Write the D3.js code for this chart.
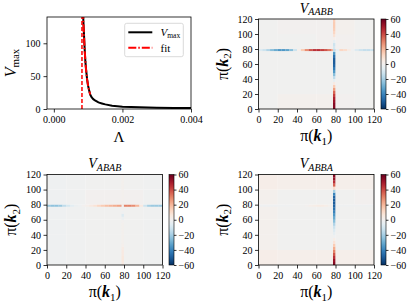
<!DOCTYPE html>
<html>
<head>
<meta charset="utf-8">
<script src="https://cdnjs.cloudflare.com/ajax/libs/d3/7.8.5/d3.min.js"></script>
<style>
body { margin: 0; background: #fff; }
svg text { font-family: "Liberation Serif", "DejaVu Serif", serif; fill: #000; }
</style>
</head>
<body>
<div id="chart"></div>
<script>
// V_max against Lambda
var lambdaVals = [0.000852, 0.00086, 0.00088, 0.0009, 0.00092, 0.00094, 0.00097, 0.001, 0.00103, 0.00106, 0.0011, 0.00115, 0.0012, 0.0013, 0.0014, 0.0015, 0.0017, 0.002, 0.0025, 0.003, 0.0035, 0.004];
var vmaxVals = [150, 135, 112, 90, 72, 60, 45, 35, 28, 22, 18, 15, 13, 10, 8.5, 7, 5, 3.4, 2.5, 2, 1.7, 1.5];
var fitLambda = [0.00084, 0.00085, 0.00086, 0.00088, 0.0009, 0.00092, 0.00094, 0.00097, 0.001, 0.00103, 0.00106];
var fitVals = [170, 150, 132, 110, 89, 72, 59, 45, 35, 28, 22];
var lambdaCrit = 0.00082;

var lambdaTicks = [0, 0.002, 0.004];
var vmaxTicks = [0, 50, 100];
var kTicks = [0, 20, 40, 60, 80, 100, 120];
var cbarTicks = [60, 40, 20, 0, -20, -40, -60];

// heat maps: values along k2 = lineK (k1 = 0, 4, ... 116),
// values along k1 = lineK (k2 = 0, 4, ... 116),
// coarse background in 20x20 blocks (rows from k2 = 0 upward)
var lineK = 78.6;

var aabbRow = [-8, -12, -18, -25, -30, -35, -35, -32, -25, -12, 2, 15, 28, 38, 44, 45, 42, 38, 32, 20, -5, 12, 10, 4, -2, -8, -12, -14, -14, -12];
var aabbCol = [55, 55, 52, 48, 42, 35, 25, 15, 5, -5, -15, -25, -35, -42, -48, -50, -50, -45, -35, -15, -10, -12, -5, 2, 8, 12, 14, 15, 15, 14];
var aabbBg = [[-1, 1, 1, 1, 0, -1], [-1, -1, -1, -1, -1, -1], [-1, -1, -1, -1, -1, -1], [-1, -1, -1, -1, -1, -1], [-1, -1, -1, 0, 0, -1], [-1, 0, 0, 0, 1, -1]];

var ababRow = [-22, -24, -24, -22, -15, -10, -6, -3, -2, 0, 2, 5, 8, 12, 15, 18, 20, 22, 24, 26, 30, 30, 28, 20, 5, -12, -20, -22, -22, -22];
var ababCol = [5, 6, 6, 5, 5, 4, 2, 1, 1, 1, 1, 1, 1, 1, 0, -3, -8, -2, 0, 0, 1, 1, 1, 1, 1, 1, 1, 1, 1, 1];
var ababBg = [[-2, -1.5, -1, -1, -1, -1.5], [-2, -1.5, -1, -1, -1, -1.5], [-2, -1.5, -1, -1, -1, -1.5], [-2, -1.5, -1, -1, -1, -1.5], [-2, -1.5, 0, 0, 0, -1.5], [-2, -1.5, -1, -1, -1, -1.5]];

var abbaRow = [-2, -2, -2, -2, -2, -2, -2, -2, -2, -1, -1, -1, 0, 2, 3, 4, 4, 3, 1, 0, -2, -2, -2, -2, -2, -2, -2, -2, -2, -2];
var abbaCol = [55, 52, 45, 38, 30, 22, 15, 8, 3, -2, -5, -8, -12, -18, -25, -30, -35, -40, -45, -48, -50, -50, -48, -40, -20, 10, 35, 45, 52, 55];
var abbaBg = [[2.5, 2, 2, 2, 2, 2], [1, -1, -1, -1, -1, -1], [1, -1, -1, -1, -1, -1], [1, -1, -1, -1, -1, -1], [1, -1, -1, -1, -1, 0], [2.5, 2, 2, 2, 2, 2]];

var svg = d3.select("#chart")
    .append("svg")
    .attr("width", 416)
    .attr("height", 306);

var colour = d3.scaleSequential(t => d3.interpolateRdBu(1 - t)).domain([-60, 60]);

var defs = svg.append("defs");
var grad = defs.append("linearGradient")
    .attr("id", "cbar")
    .attr("x1", 0).attr("y1", 1)
    .attr("x2", 0).attr("y2", 0);
grad.selectAll("stop")
    .data(d3.range(0, 1.0001, 0.05))
    .enter().append("stop")
    .attr("offset", d => d)
    .attr("stop-color", d => colour(-60 + 120 * d));

var serif = "'Liberation Serif', 'DejaVu Serif', serif";

function styleAxis(g, size) {
    g.attr("font-family", serif);
    g.select(".domain").remove();
    g.selectAll("line").attr("stroke", "#000").attr("stroke-width", 0.8);
    g.selectAll("text")
        .attr("font-family", serif)
        .attr("font-size", size || 10);
}

// ---------- top left: V_max ----------
var lx = d3.scaleLinear().domain([-0.0002, 0.004]).range([47, 191]);
var ly = d3.scaleLinear().domain([0, 140]).range([109, 17]);

defs.append("clipPath").attr("id", "clipTL")
    .append("rect")
    .attr("x", 47).attr("y", 17)
    .attr("width", 144).attr("height", 92);

var tl = svg.append("g");
var plot = tl.append("g").attr("clip-path", "url(#clipTL)");

var line = d3.line()
    .x(d => lx(d[0]))
    .y(d => ly(d[1]));

plot.append("path")
    .attr("d", line(lambdaVals.map((v, i) => [v, vmaxVals[i]])))
    .attr("fill", "none")
    .attr("stroke", "#000")
    .attr("stroke-width", 2);

plot.append("path")
    .attr("d", line(fitLambda.map((v, i) => [v, fitVals[i]])))
    .attr("fill", "none")
    .attr("stroke", "#ff0000")
    .attr("stroke-width", 2)
    .attr("stroke-dasharray", "8,2,1.5,2");

plot.append("line")
    .attr("x1", lx(lambdaCrit)).attr("x2", lx(lambdaCrit))
    .attr("y1", ly(0)).attr("y2", ly(140))
    .attr("stroke", "#ff0000")
    .attr("stroke-width", 1.5)
    .attr("stroke-dasharray", "4,2");

tl.append("g")
    .attr("transform", "translate(0,109)")
    .call(d3.axisBottom(lx).tickValues(lambdaTicks).tickFormat(d3.format(".3f")).tickSize(3.5).tickPadding(3.5))
    .call(styleAxis);
tl.append("g")
    .attr("transform", "translate(47,0)")
    .call(d3.axisLeft(ly).tickValues(vmaxTicks).tickSize(3.5).tickPadding(3))
    .call(styleAxis);

tl.append("rect")
    .attr("x", 47).attr("y", 17)
    .attr("width", 144).attr("height", 92)
    .attr("fill", "none")
    .attr("stroke", "#000")
    .attr("stroke-width", 0.8);

// legend
var leg = tl.append("g");
leg.append("rect")
    .attr("x", 124.7).attr("y", 23.3)
    .attr("width", 58.6).attr("height", 33.4)
    .attr("rx", 2)
    .attr("fill", "#fff")
    .attr("fill-opacity", 0.8)
    .attr("stroke", "#d0d0d0")
    .attr("stroke-width", 0.8);
leg.append("line")
    .attr("x1", 128.3).attr("x2", 152.3)
    .attr("y1", 32.3).attr("y2", 32.3)
    .attr("stroke", "#000").attr("stroke-width", 2);
leg.append("line")
    .attr("x1", 128.3).attr("x2", 152.3)
    .attr("y1", 47.7).attr("y2", 47.7)
    .attr("stroke", "#ff0000").attr("stroke-width", 2)
    .attr("stroke-dasharray", "8,2,1.5,2");
var lt = leg.append("text").attr("x", 160.5).attr("y", 35.7).attr("font-size", 11);
lt.append("tspan").attr("font-style", "italic").text("V");
lt.append("tspan").attr("font-size", 7.5).attr("dy", 2).text("max");
leg.append("text").attr("x", 160.5).attr("y", 51.5).attr("font-size", 11).text("fit");

tl.append("text")
    .attr("x", lx(0.0019)).attr("y", 141.5)
    .attr("text-anchor", "middle")
    .attr("font-size", 15)
    .text("\u039b");

var yl = tl.append("text")
    .attr("transform", "translate(15.5,63) rotate(-90)")
    .attr("text-anchor", "middle")
    .attr("font-size", 16);
yl.append("tspan").attr("font-style", "italic").text("V");
yl.append("tspan").attr("font-size", 11).attr("dy", 3.5).text("max");

// ---------- heat maps ----------
function kLabel(sel, idx) {
    sel.append("tspan").text("\u03c0(");
    sel.append("tspan").attr("font-weight", "bold").attr("font-style", "italic").text("k");
    sel.append("tspan").attr("font-size", 11).attr("dy", 3.5).text(idx);
    sel.append("tspan").attr("dy", -3.5).text(")");
}

function drawHeat(box, name, rowVals, colVals, bg) {
    var x = d3.scaleLinear().domain([0, 120]).range([box.x0, box.x1]);
    var y = d3.scaleLinear().domain([0, 120]).range([box.y1, box.y0]);
    var g = svg.append("g");

    var cells = [];
    bg.forEach((r, j) => r.forEach((v, i) => cells.push({k1: i * 20, k2: j * 20, w: 20, h: 20, v: v})));
    rowVals.forEach((v, i) => cells.push({k1: i * 4, k2: lineK - 1.3, w: 4, h: 2.6, v: v}));
    colVals.forEach((v, i) => cells.push({k1: lineK - 1.2, k2: i * 4, w: 2.4, h: 4, v: v}));

    g.append("g")
        .selectAll("rect")
        .data(cells)
        .enter().append("rect")
        .attr("x", d => x(d.k1))
        .attr("y", d => y(d.k2 + d.h))
        .attr("width", d => x(d.k1 + d.w) - x(d.k1) + 0.05)
        .attr("height", d => y(d.k2) - y(d.k2 + d.h) + 0.05)
        .attr("fill", d => colour(d.v));

    g.append("g")
        .attr("transform", `translate(0,${box.y1})`)
        .call(d3.axisBottom(x).tickValues(kTicks).tickSize(3.5).tickPadding(3.5))
        .call(styleAxis);
    g.append("g")
        .attr("transform", `translate(${box.x0},0)`)
        .call(d3.axisLeft(y).tickValues(kTicks).tickSize(3.5).tickPadding(2.5))
        .call(styleAxis);

    g.append("rect")
        .attr("x", box.x0).attr("y", box.y0)
        .attr("width", box.x1 - box.x0).attr("height", box.y1 - box.y0)
        .attr("fill", "none")
        .attr("stroke", "#000")
        .attr("stroke-width", 0.8);

    // colour bar
    var cy = d3.scaleLinear().domain([-60, 60]).range([box.y1, box.y0]);
    g.append("rect")
        .attr("x", box.cx0).attr("y", box.y0)
        .attr("width", box.cx1 - box.cx0).attr("height", box.y1 - box.y0)
        .attr("fill", "url(#cbar)")
        .attr("stroke", "#000")
        .attr("stroke-width", 0.6);
    g.append("g")
        .attr("transform", `translate(${box.cx1},0)`)
        .call(d3.axisRight(cy).tickValues(cbarTicks).tickSize(2.5).tickPadding(2))
        .call(styleAxis);

    var mid = (box.x0 + box.x1) / 2;
    var t = g.append("text")
        .attr("x", mid).attr("y", box.y0 - 6.5)
        .attr("text-anchor", "middle")
        .attr("font-size", 14)
        .attr("font-style", "italic");
    t.append("tspan").text("V");
    t.append("tspan").attr("font-size", 10).attr("dy", 2.5).text(name);

    var xl = g.append("text")
        .attr("x", mid).attr("y", box.y1 + 32)
        .attr("text-anchor", "middle")
        .attr("font-size", 16);
    kLabel(xl, "1");

    var ylab = g.append("text")
        .attr("transform", `translate(${box.x0 - 31},${(box.y0 + box.y1) / 2}) rotate(-90)`)
        .attr("text-anchor", "middle")
        .attr("font-size", 16);
    kLabel(ylab, "2");
}

drawHeat({x0: 258.5, x1: 374, y0: 19, y1: 109, cx0: 381, cx1: 386}, "AABB", aabbRow, aabbCol, aabbBg);
drawHeat({x0: 47, x1: 162.5, y0: 174.5, y1: 265, cx0: 169, cx1: 174}, "ABAB", ababRow, ababCol, ababBg);
drawHeat({x0: 258.5, x1: 374, y0: 174.5, y1: 265, cx0: 381, cx1: 386}, "ABBA", abbaRow, abbaCol, abbaBg);
</script>
</body>
</html>
